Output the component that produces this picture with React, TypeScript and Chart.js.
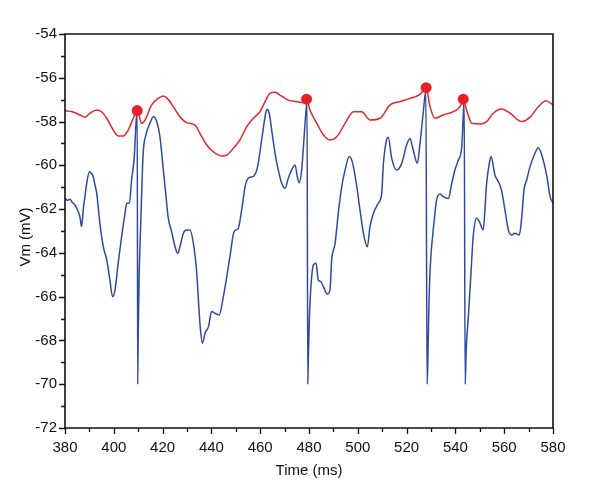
import React, { useEffect, useRef } from "react";
import { Chart, registerables } from "chart.js";

Chart.register(...registerables);

// Membrane potential trace (blue)
const blueT = [
  380, 381, 382, 383, 384, 385, 386.1, 386.8, 387.5, 388.2, 388.9, 390.0, 390.6, 391.6, 392.3, 393.0,
  394.3, 395.7, 397.1, 398.4, 399.5, 400.5, 401.8, 403.2, 404.6, 405.3, 406.4, 407.3, 408.4, 409.1,
  409.6, 409.8, 410.0, 410.4, 411.0, 411.5, 412.0, 413.2, 414.8, 416.2, 417.6, 418.9, 420.3, 421.4,
  422.3, 423.7, 425.1, 426.2, 427.1, 428.5, 429.9, 431.2, 432.6, 434.0, 434.6, 435.3, 436.3, 437.4,
  438.8, 440.1, 441.5, 443.2, 444.9, 446.3, 447.6, 449.3, 451.0, 452.4, 453.8, 455.1, 457.2, 458.6,
  459.2, 460.6, 462.0, 462.7, 463.7, 464.7, 466.1, 467.4, 468.8, 470.2, 471.5, 472.9, 474.3, 475.2,
  476.0, 477.0, 478.0, 478.8, 479.2, 479.5, 479.7, 480.1, 480.7, 481.8, 482.9, 483.8, 484.8, 485.9,
  487.5, 488.6, 489.3, 490.7, 492.0, 493.4, 494.8, 496.5, 497.9, 499.6, 500.9, 502.3, 503.9, 505.0,
  506.4, 508.4, 509.8, 510.5, 511.8, 512.5, 513.9, 515.9, 518.0, 520.0, 521.4, 522.7, 524.4, 525.5,
  526.8, 527.9, 528.4, 528.7, 529.1, 529.7, 531.2, 532.3, 533.7, 535.0, 537.1, 538.5, 539.8, 541.2,
  542.6, 543.2, 543.6, 544.0, 544.4, 545.3, 546.3, 547.3, 548.7, 549.8, 551.4, 552.1, 552.8, 553.9,
  554.6, 556.2, 557.6, 558.9, 560.3, 561.7, 563.0, 564.4, 566.2, 567.2, 568.1, 569.2, 570.6, 572.3,
  574.0, 575.4, 577.5, 578.8, 580.0,
];
const blueV = [
  -61.5, -61.6, -61.55, -61.7, -61.8, -62.0, -62.35, -62.8, -62.0, -61.4, -60.82, -60.29, -60.35, -60.52, -60.9, -61.28,
  -62.65, -63.72, -64.32, -65.24, -66.0, -65.69, -64.47, -63.26, -62.19, -61.73, -61.73, -60.67, -59.6, -58.08,
  -57.55, -70.0, -67.8, -65.0, -62.8, -61.0, -59.5, -58.6, -58.08, -57.78, -58.0, -58.69, -60.21, -61.43,
  -62.4, -63.03, -63.72, -64.02, -63.72, -63.1, -62.95, -62.95, -63.56, -64.93, -66.0, -67.22, -68.13, -67.67,
  -67.37, -66.68, -66.76, -66.84, -66.0, -65.09, -64.17, -63.03, -62.88, -62.04, -60.98, -60.59, -60.5, -60.21,
  -59.91, -58.84, -57.78, -57.44, -57.62, -58.39, -59.45, -60.21, -60.82, -61.05, -60.59, -60.21, -59.98, -60.52,
  -60.79, -60.21, -58.69, -57.47, -57.1, -70.0, -69.0, -67.2, -65.7, -64.55, -64.47, -65.24, -65.31, -65.54,
  -65.88, -65.69, -64.32, -63.56, -62.19, -60.98, -60.21, -59.6, -59.91, -60.98, -62.04, -63.1, -63.72, -62.8,
  -62.19, -61.73, -61.28, -59.91, -58.84, -58.72, -59.68, -60.21, -59.91, -59.07, -58.77, -59.3, -59.91, -58.99,
  -57.62, -56.6, -70.0, -69.0, -66.6, -64.63, -62.65, -61.58, -61.31, -61.43, -61.51, -60.82, -60.21, -59.76,
  -59.15, -57.78, -57.0, -70.0, -68.5, -66.91, -65.09, -63.26, -62.42, -62.57, -62.95, -62.04, -60.82, -59.91,
  -59.6, -60.44, -60.75, -61.13, -62.04, -62.95, -63.18, -63.1, -63.18, -62.35, -61.13, -60.67, -60.06, -59.53,
  -59.2, -59.53, -60.52, -61.43, -61.73,
];

// Threshold trace (red)
const redT = [
  380, 383, 386.1, 388.2, 390.2, 393, 395, 397.1, 399.8, 401.8, 403.9, 405.9, 408, 409.6, 411.4, 412.8,
  415.5, 418.2, 420.3, 421.9, 424.4, 427.1, 429.9, 433.3, 435.3, 438.1, 440.8, 444.2, 446.3, 449, 451.7,
  454.5, 457.2, 459.9, 462, 464, 466.1, 468.1, 471.5, 475, 477.7, 479, 480.4, 483.2, 485.9, 488.6, 491.4,
  494.8, 498.2, 501.6, 505, 509.1, 513.2, 517.3, 521.4, 525.5, 528, 529.6, 531.6, 535, 539.1, 541.9, 543.2,
  544.6, 546.7, 550.1, 552.8, 555.5, 559, 562.4, 567.2, 570.6, 574, 577.1, 580,
];
const redV = [
  -57.5, -57.55, -57.7, -57.8, -57.62, -57.47, -57.55, -57.85, -58.39, -58.66, -58.66, -58.39, -57.85, -57.5, -58.08, -57.93,
  -57.24, -56.94, -56.83, -56.94, -57.32, -57.78, -58.05, -58.16, -58.54, -59.07, -59.38, -59.57, -59.53, -59.22, -58.84,
  -58.23, -57.85, -57.55, -57.09, -56.71, -56.66, -56.79, -57.02, -57.09, -57.14, -56.98, -57.47, -58.08, -58.61, -58.84, -58.69,
  -58.08, -57.55, -57.55, -57.93, -57.85, -57.24, -57.09, -56.94, -56.76, -56.45, -57.32, -57.85, -57.7, -57.55, -57.32, -56.98,
  -57.47, -58.08, -58.11, -58.0, -57.62, -57.43, -57.62, -58.0, -57.8, -57.32, -57.05, -57.24,
];

// Spike markers (red dots)
const spikeT = [409.6, 479.0, 528.0, 543.2];
const spikeV = [-57.5, -56.98, -56.45, -56.98];

const xTickLabels = [380, 400, 420, 440, 460, 480, 500, 520, 540, 560, 580];
const yTickLabels = [-72, -70, -68, -66, -64, -62, -60, -58, -56, -54];

const FONT = "'Liberation Sans', Arial, sans-serif";

const framePlugin = {
  id: "frame",
  afterDraw(chart: any) {
    const { ctx, chartArea } = chart;
    const xs = chart.scales.x;
    const ys = chart.scales.y;
    const { left, right, top, bottom } = chartArea;
    ctx.save();
    ctx.strokeStyle = "#111";
    ctx.lineWidth = 1.6;
    ctx.beginPath();
    ctx.rect(left, top, right - left, bottom - top);
    ctx.stroke();
    ctx.lineWidth = 1.3;
    ctx.beginPath();
    for (let v = -72; v <= -54; v += 1) {
      const y = Math.round(ys.getPixelForValue(v)) + 0.5;
      const len = v % 2 === 0 ? 6 : 4;
      ctx.moveTo(left, y);
      ctx.lineTo(left - len, y);
    }
    for (let t = 380; t <= 580; t += 10) {
      const x = Math.round(xs.getPixelForValue(t)) + 0.5;
      const len = t % 20 === 0 ? 6 : 4;
      ctx.moveTo(x, bottom);
      ctx.lineTo(x, bottom + len);
    }
    ctx.stroke();
    ctx.fillStyle = "#111";
    ctx.font = `15px ${FONT}`;
    ctx.textAlign = "center";
    ctx.textBaseline = "middle";
    ctx.fillText("Time (ms)", (left + right) / 2, 471);
    ctx.translate(26, 237);
    ctx.rotate(-Math.PI / 2);
    ctx.fillText("Vm (mV)", 0, 0);
    ctx.restore();
  },
};

export default function App() {
  const ref = useRef<HTMLCanvasElement | null>(null);
  useEffect(() => {
    if (!ref.current) return;
    const chart = new Chart(ref.current, {
      type: "line",
      data: {
        datasets: [
          {
            label: "spikes",
            type: "scatter",
            data: spikeT.map((t, i) => ({ x: t, y: spikeV[i] })),
            backgroundColor: "#e8202a",
            borderColor: "#e8202a",
            pointRadius: 5.5,
            pointBorderWidth: 0,
            order: 0,
          },
          {
            label: "threshold",
            data: redT.map((t, i) => ({ x: t, y: redV[i] })),
            borderColor: "#e3242b",
            borderWidth: 1.5,
            pointRadius: 0,
            cubicInterpolationMode: "monotone",
            order: 1,
          },
          {
            label: "Vm",
            data: blueT.map((t, i) => ({ x: t, y: blueV[i] })),
            borderColor: "#2f4a9c",
            borderWidth: 1.5,
            pointRadius: 0,
            cubicInterpolationMode: "monotone",
            order: 2,
          },
        ],
      },
      options: {
        animation: false,
        responsive: false,
        layout: { padding: { top: 34, right: 47, left: 0, bottom: 0 } },
        plugins: { legend: { display: false }, tooltip: { enabled: false } },
        scales: {
          x: {
            type: "linear",
            min: 380,
            max: 580,
            afterFit: (s: any) => {
              s.height = 62;
            },
            afterBuildTicks: (s: any) => {
              s.ticks = xTickLabels.map((v) => ({ value: v }));
            },
            grid: { display: false, drawTicks: false },
            border: { display: false },
            ticks: {
              padding: 11,
              color: "#111",
              font: { family: FONT, size: 15 },
              maxRotation: 0,
              autoSkip: false,
            },
          },
          y: {
            type: "linear",
            min: -72,
            max: -54,
            afterFit: (s: any) => {
              s.width = 65;
            },
            afterBuildTicks: (s: any) => {
              s.ticks = yTickLabels.map((v) => ({ value: v }));
            },
            grid: { display: false, drawTicks: false },
            border: { display: false },
            ticks: {
              padding: 8,
              color: "#111",
              font: { family: FONT, size: 15 },
              autoSkip: false,
            },
          },
        },
      },
      plugins: [framePlugin],
    });
    return () => chart.destroy();
  }, []);
  return (
    <canvas
      ref={ref}
      width={600}
      height={490}
      style={{ position: "absolute", left: 0, top: 0, display: "block", background: "#fff" }}
    />
  );
}
